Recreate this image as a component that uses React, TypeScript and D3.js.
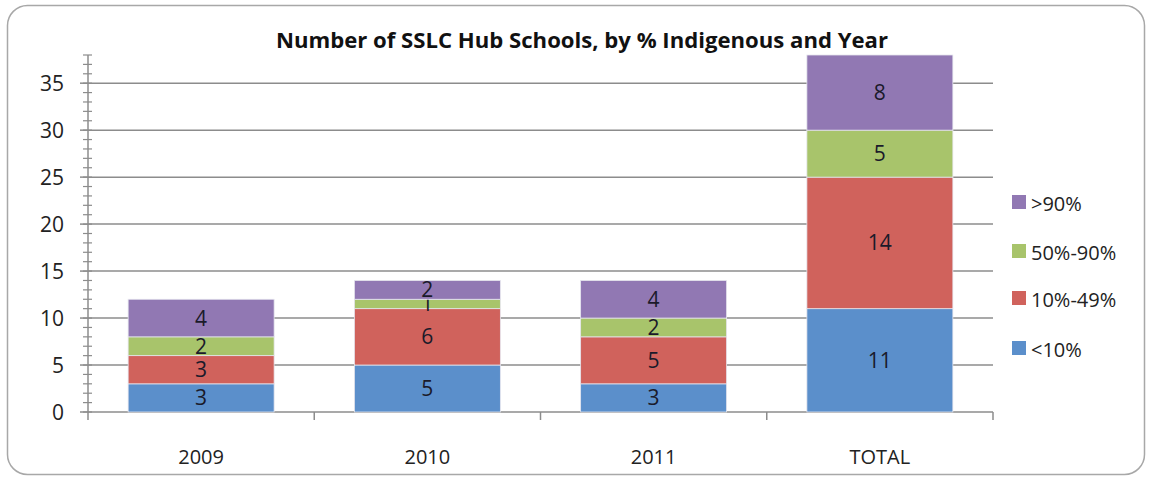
import React from "react";
import * as d3 from "d3";

const categories = ["2009", "2010", "2011", "TOTAL"];
const seriesNames = ["<10%", "10%-49%", "50%-90%", ">90%"];
const below10 = [3, 5, 3, 11];
const pct10to49 = [3, 6, 5, 14];
const pct50to90 = [2, 1, 2, 5];
const above90 = [4, 2, 4, 8];
const colors = ["#5b8fcb", "#d0625c", "#a8c46b", "#9178b3"];
const yTicks = [0, 5, 10, 15, 20, 25, 30, 35];

const W = 1150;
const H = 481;
const M = { left: 88, right: 993, top: 55, bottom: 412 };
const FONT = "'Open Sans', 'Liberation Sans', sans-serif";

export default function App() {
  const x = d3.scaleBand().domain(categories).range([M.left, M.right]).paddingInner(0.3548).paddingOuter(0.1774);
  const xCat = d3.scaleBand().domain(categories).range([M.left, M.right]);
  const y = d3.scaleLinear().domain([0, 38]).range([M.bottom, M.top]);

  const table = categories.map((c, i) => ({
    cat: c,
    "<10%": below10[i],
    "10%-49%": pct10to49[i],
    "50%-90%": pct50to90[i],
    ">90%": above90[i],
  }));
  const stacked = d3.stack<any>().keys(seriesNames)(table);
  const minor = d3.range(0, 39, 1);

  const legendY = [349, 299, 252, 203];

  return (
    <svg width={W} height={H} style={{ position: "absolute", left: 0, top: 0 }} fontFamily={FONT}>
      <rect x={0} y={0} width={W} height={H} fill="#fff" />
      <rect x={7.5} y={5.5} width={1137} height={469} rx={20} ry={20} fill="#fff" stroke="#a8a8a8" strokeWidth={1.5} />
      <text x={582} y={48} textAnchor="middle" fontSize={21} fontWeight="bold" fill="#111" textLength={612} lengthAdjust="spacingAndGlyphs">
        Number of SSLC Hub Schools, by % Indigenous and Year
      </text>
      {/* gridlines */}
      {yTicks.slice(1).map((t) => (
        <line key={"g" + t} x1={M.left} x2={M.right} y1={y(t)} y2={y(t)} stroke="#8c8c8c" strokeWidth={1.5} />
      ))}
      {/* minor ticks */}
      {minor.map((t) => (
        <line key={"m" + t} x1={M.left - 5} x2={M.left + 4} y1={y(t)} y2={y(t)} stroke="#8c8c8c" strokeWidth={1.2} />
      ))}
      {yTicks.map((t) => (
        <line key={"M" + t} x1={M.left - 8} x2={M.left} y1={y(t)} y2={y(t)} stroke="#8c8c8c" strokeWidth={1.5} />
      ))}
      {/* axes */}
      <line x1={M.left} x2={M.left} y1={M.top} y2={M.bottom} stroke="#8c8c8c" strokeWidth={1.5} />
      <line x1={M.left} x2={M.right} y1={M.bottom} y2={M.bottom} stroke="#8c8c8c" strokeWidth={1.5} />
      {categories.map((c) => (
        <line key={"xt" + c} x1={(xCat(c) as number) + xCat.bandwidth()} x2={(xCat(c) as number) + xCat.bandwidth()} y1={M.bottom} y2={M.bottom + 8} stroke="#8c8c8c" strokeWidth={1.5} />
      ))}
      <line x1={M.left} x2={M.left} y1={M.bottom} y2={M.bottom + 8} stroke="#8c8c8c" strokeWidth={1.5} />
      {/* y labels */}
      {yTicks.map((t) => (
        <text key={"yl" + t} x={64} y={y(t) + 7.5} textAnchor="end" fontSize={21} fill="#222">
          {t}
        </text>
      ))}
      {/* x labels */}
      {categories.map((c) => (
        <text key={"xl" + c} x={(xCat(c) as number) + xCat.bandwidth() / 2} y={464} textAnchor="middle" fontSize={20} fill="#222">
          {c}
        </text>
      ))}
      {/* bars */}
      {stacked.map((s, si) =>
        s.map((d, i) => (
          <g key={si + "-" + i}>
            <rect
              x={x(categories[i])}
              y={y(d[1])}
              width={x.bandwidth()}
              height={y(d[0]) - y(d[1])}
              fill={colors[si]}
              stroke="#e6e6ee"
              strokeWidth={0.8}
            />
            <text
              x={(x(categories[i]) as number) + x.bandwidth() / 2}
              y={(y(d[0]) + y(d[1])) / 2 + 7.5}
              textAnchor="middle"
              fontSize={21}
              fill="#1a1a2a"
            >
              {d[1] - d[0]}
            </text>
          </g>
        ))
      )}
      {/* legend */}
      {seriesNames.map((n, i) => (
        <g key={"lg" + n}>
          <rect x={1012} y={legendY[i] - 8} width={14} height={14} fill={colors[i]} />
          <text x={1031} y={legendY[i] + 8} fontSize={20} fill="#222">
            {n}
          </text>
        </g>
      ))}
    </svg>
  );
}
